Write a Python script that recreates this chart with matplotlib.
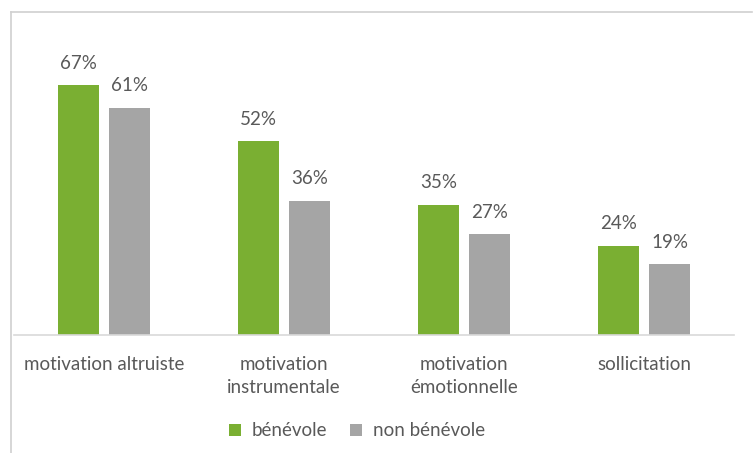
import matplotlib.pyplot as plt
from matplotlib.lines import Line2D
import numpy as np

categories = ["motivation altruiste", "motivation\ninstrumentale",
              "motivation\némotionnelle", "sollicitation"]
benevole = [0.67, 0.52, 0.35, 0.24]
non_benevole = [0.61, 0.36, 0.27, 0.19]
series_names = ["bénévole", "non bénévole"]

green = "#7AAF32"
grey = "#A5A5A5"
txt = "#595959"

plt.rcParams['font.family'] = ['Lato', 'DejaVu Sans']
fs = 13.5

W, H = 753, 453
fig = plt.figure(figsize=(W / 100, H / 100), dpi=100)
ax = fig.add_axes([14 / W, (H - 335) / H, 720 / W, 298 / H])

x = np.arange(len(categories))
bw = 0.228
off = 0.143
b1 = ax.bar(x - off, benevole, bw, color=green, label=series_names[0])
b2 = ax.bar(x + off, non_benevole, bw, color=grey, label=series_names[1])

for bars in (b1, b2):
    for r in bars:
        ax.text(r.get_x() + r.get_width() / 2, r.get_height() + 0.036,
                f"{round(r.get_height() * 100)}%", ha='center', va='bottom',
                fontsize=fs, color=txt)

ax.set_xlim(-0.5, len(categories) - 0.5)
ax.set_ylim(0, 0.8)
ax.set_yticks([])
ax.set_xticks(x)
ax.set_xticklabels(categories, fontsize=fs, color=txt, linespacing=1.45)
ax.tick_params(axis='x', length=0, pad=15)
for s in ('top', 'right', 'left'):
    ax.spines[s].set_visible(False)
ax.spines['bottom'].set_color("#D9D9D9")
ax.spines['bottom'].set_linewidth(1.2)

ax.legend(loc='center', bbox_to_anchor=(357 / W, 1 - 431 / H),
          bbox_transform=fig.transFigure, ncol=2, frameon=False,
          fontsize=fs, handlelength=0.65, handleheight=0.65,
          columnspacing=1.2, handletextpad=0.6, labelcolor=txt)

# chart border (left and top visible)
fig.add_artist(Line2D([10.5 / W, 10.5 / W], [0, 1 - 11.5 / H],
                      color="#D0D0D0", lw=1.2, transform=fig.transFigure))
fig.add_artist(Line2D([10.5 / W, 752 / W], [1 - 11.5 / H, 1 - 11.5 / H],
                      color="#D0D0D0", lw=1.2, transform=fig.transFigure))

fig.savefig("out.png", dpi=100)
